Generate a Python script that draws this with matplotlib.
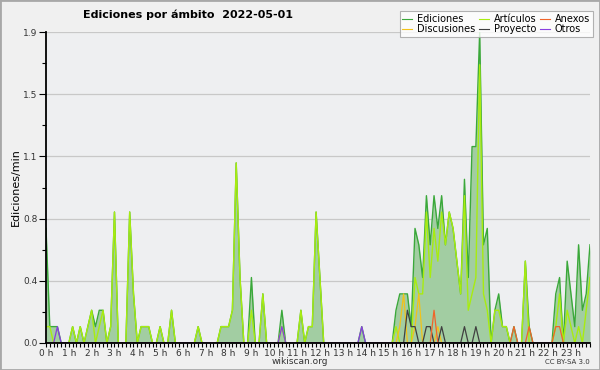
import matplotlib

matplotlib.use("Agg")
import matplotlib.pyplot as plt
import numpy as np
from matplotlib.patches import Rectangle
from matplotlib.ticker import FixedLocator, MultipleLocator

# 10-minute bins, 0:00 .. 23:50 (edits per minute)
minutes = np.arange(144) * 10

ediciones = [
    0.7, 0.1, 0.1, 0.1, 0, 0, 0, 0.1, 0, 0.1, 0, 0.1, 0.2, 0.1, 0.2, 0.2,
    0, 0.1, 0.8, 0, 0, 0, 0.8, 0.3, 0, 0.1, 0.1, 0.1, 0, 0, 0.1, 0,
    0, 0.2, 0, 0, 0, 0, 0, 0, 0.1, 0, 0, 0, 0, 0, 0.1, 0.1,
    0.1, 0.2, 1.1, 0.4, 0, 0, 0.4, 0, 0, 0.3, 0, 0, 0, 0, 0.2, 0,
    0, 0, 0, 0.2, 0, 0.1, 0.1, 0.8, 0.4, 0, 0, 0, 0, 0, 0, 0,
    0, 0, 0, 0.1, 0, 0, 0, 0, 0, 0, 0, 0, 0.2, 0.3, 0.3, 0.3,
    0.1, 0.7, 0.6, 0.4, 0.9, 0.6, 0.9, 0.7, 0.9, 0.6, 0.8, 0.7, 0.5, 0.3, 1.0, 0.4,
    1.2, 1.2, 1.9, 0.6, 0.7, 0, 0.2, 0.3, 0.1, 0.1, 0, 0.1, 0, 0, 0.5, 0.1,
    0, 0, 0, 0, 0, 0, 0.3, 0.4, 0, 0.5, 0.3, 0.1, 0.6, 0.2, 0.3, 0.6,
]
articulos = [
    0.1, 0.1, 0, 0, 0, 0, 0, 0.1, 0, 0.1, 0, 0.1, 0.2, 0, 0.1, 0.2,
    0, 0.1, 0.8, 0, 0, 0, 0.8, 0.3, 0, 0.1, 0.1, 0.1, 0, 0, 0.1, 0,
    0, 0.2, 0, 0, 0, 0, 0, 0, 0.1, 0, 0, 0, 0, 0, 0.1, 0.1,
    0.1, 0.2, 1.1, 0.4, 0, 0, 0.2, 0, 0, 0.3, 0, 0, 0, 0, 0.1, 0,
    0, 0, 0, 0.2, 0, 0.1, 0.1, 0.8, 0.4, 0, 0, 0, 0, 0, 0, 0,
    0, 0, 0, 0, 0, 0, 0, 0, 0, 0, 0, 0, 0.1, 0, 0, 0,
    0, 0.4, 0.3, 0.3, 0.8, 0.4, 0.7, 0.5, 0.8, 0.6, 0.8, 0.7, 0.5, 0.3, 0.9, 0.2,
    0.3, 0.4, 1.7, 0.3, 0.2, 0, 0.2, 0.2, 0.1, 0.1, 0, 0, 0, 0, 0.5, 0,
    0, 0, 0, 0, 0, 0, 0.1, 0.3, 0, 0.2, 0.1, 0, 0.1, 0, 0.2, 0.4,
]
discusiones = np.zeros(144)
discusiones[[93, 94, 97, 98, 103]] = [0.1, 0.3, 0.1, 0.3, 0.1]
proyecto = np.zeros(144)
proyecto[[95, 96, 97, 100, 101, 104, 110, 113]] = [0.2, 0.1, 0.1, 0.1, 0.1, 0.1, 0.1, 0.1]
anexos = np.zeros(144)
anexos[[102, 123, 127, 134, 135]] = [0.2, 0.1, 0.1, 0.1, 0.1]
otros = np.zeros(144)
otros[[3, 62, 83]] = [0.1, 0.1, 0.1]

hour_labels = [f"{h} h" for h in range(24)]
y_max = 1.9

C_EDIC = "#3aa83a"
C_FILL = "#a2cda2"
C_ART = "#a8ec10"
C_DISC = "#f2c21a"
C_PROY = "#404040"
C_ANEX = "#f0642a"
C_OTROS = "#8a3fe0"

fig = plt.figure(figsize=(6, 3.7), dpi=100, facecolor="#f0f0f0")
ax = fig.add_axes([46 / 600, 27 / 370, 544 / 600, 311 / 370])
ax.set_facecolor("#eeeff1")

ax.fill_between(minutes, ediciones, color=C_FILL, lw=0, zorder=1)
ax.plot(minutes, ediciones, color=C_EDIC, lw=1.0, label="Ediciones", zorder=3)
ax.plot(minutes, discusiones, color=C_DISC, lw=0.9, label="Discusiones", zorder=4)
ax.plot(minutes, articulos, color=C_ART, lw=1.0, label="Artículos", zorder=3.5)
ax.plot(minutes, proyecto, color=C_PROY, lw=0.9, label="Proyecto", zorder=4)
ax.plot(minutes, anexos, color=C_ANEX, lw=0.9, label="Anexos", zorder=4)
ax.plot(minutes, otros, color=C_OTROS, lw=0.9, label="Otros", zorder=4)

ax.set_xlim(0, minutes[-1])
ax.set_ylim(0, y_max)

yt = np.linspace(0, y_max, 6)
ax.yaxis.set_major_locator(FixedLocator(yt))
ax.set_yticklabels([f"{v:.1f}" for v in yt])
ax.yaxis.set_minor_locator(FixedLocator((yt[:-1] + yt[1:]) / 2))
ax.xaxis.set_major_locator(FixedLocator(np.arange(24) * 60))
ax.set_xticklabels(hour_labels)
ax.xaxis.set_minor_locator(MultipleLocator(10))

ax.tick_params(axis="both", which="both", direction="out", length=3, width=0.8,
               labelsize=6.5, labelcolor="#333333", pad=1)
ax.tick_params(axis="y", which="major", length=5)
ax.grid(axis="y", which="major", color="#c8c8c8", lw=0.9)
ax.set_axisbelow(True)
for side in ("top", "right"):
    ax.spines[side].set_visible(False)
for side in ("left", "bottom"):
    ax.spines[side].set_linewidth(1.3)
    ax.spines[side].set_zorder(10)

ax.set_ylabel("Ediciones/min", fontsize=8, labelpad=2)

fig.text(188 / 600, 1 - 15 / 370, "Ediciones por ámbito  2022-05-01",
         ha="center", va="center", fontsize=8, fontweight="bold")
fig.text(300 / 600, 1 - 361 / 370, "wikiscan.org", ha="center", va="center",
         fontsize=6.5, color="#333333")
fig.text(590 / 600, 1 - 362 / 370, "CC BY-SA 3.0", ha="right", va="center",
         fontsize=5, color="#333333")

leg = fig.legend(ncol=3, loc="upper right", bbox_to_anchor=(593 / 600, 1 - 11 / 370),
                 fontsize=7, frameon=True, fancybox=False, shadow=False,
                 handlelength=1.0, handletextpad=0.5, columnspacing=0.4,
                 labelspacing=0.05, borderpad=0.3, borderaxespad=0)
leg.get_frame().set_edgecolor("#a0a0a0")
leg.get_frame().set_linewidth(0.8)
for line in leg.get_lines():
    line.set_linewidth(0.8)

fig.add_artist(Rectangle((0, 0), 1, 1, transform=fig.transFigure, fill=False,
                         edgecolor="#a8a8a8", lw=2))

fig.savefig("out.png", dpi=100, facecolor=fig.get_facecolor())
